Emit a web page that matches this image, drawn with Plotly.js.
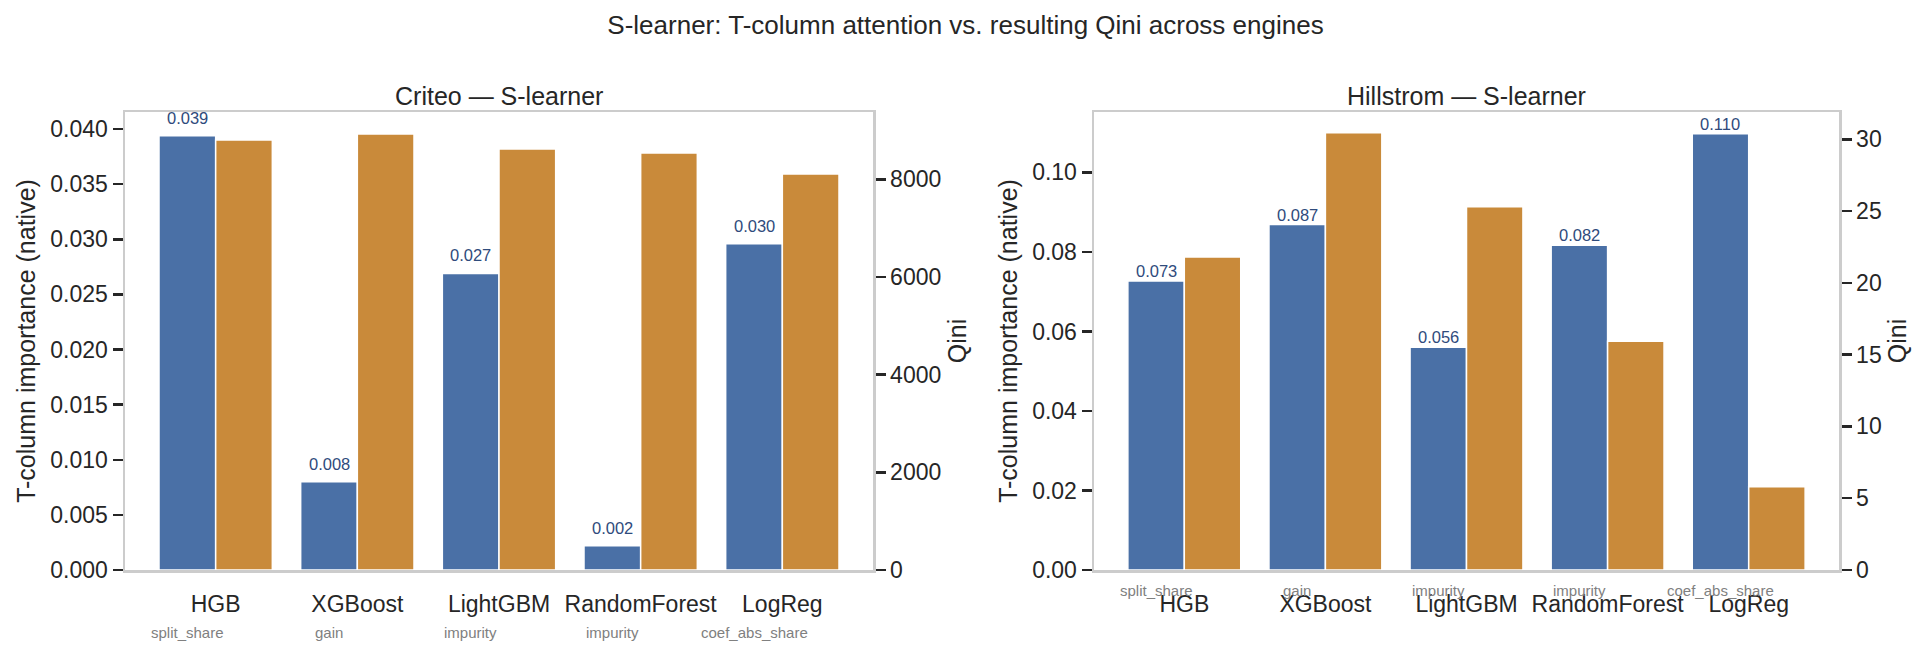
<!DOCTYPE html>
<html>
<head>
<meta charset="utf-8">
<script src="https://cdn.plot.ly/plotly-3.0.1.min.js"></script>
<style>
  html, body { margin: 0; padding: 0; background: #fff; }
  #chart { width: 1931px; height: 655px; }
</style>
</head>
<body>
<div id="chart"></div>
<script>
  // engines and the importance measure each one reports
  var engines = ["HGB", "XGBoost", "LightGBM", "RandomForest", "LogReg"];
  var measures = ["split_share", "gain", "impurity", "impurity", "coef_abs_share"];

  // Criteo
  var criteoImportance = [0.0394, 0.0080, 0.0269, 0.0022, 0.0296];
  var criteoQini = [8805, 8928, 8621, 8539, 8109];

  // Hillstrom
  var hillImportance = [0.0727, 0.0869, 0.0560, 0.0817, 0.1097];
  var hillQini = [21.8, 30.45, 25.3, 15.93, 5.8];

  var FONT = "Liberation Sans, Arial, sans-serif";
  var INK = "#262626";
  var BLUE = "#4A70A6";
  var ORANGE = "#C98A3A";
  var SPINE = "#cccccc";
  var W = 1931, H = 655;

  var idx = engines.map(function (_, i) { return i; });

  function bars(vals, color, offset, xa, ya) {
    return {
      type: "bar",
      x: idx,
      y: vals,
      width: 0.4,
      offset: offset,
      xaxis: xa,
      yaxis: ya,
      marker: { color: color, line: { color: "#ffffff", width: 1.5 } },
      hoverinfo: "y"
    };
  }

  var data = [
    bars(criteoImportance, BLUE, -0.4, "x", "y"),
    bars(criteoQini, ORANGE, 0, "x", "y2"),
    bars(hillImportance, BLUE, -0.4, "x2", "y3"),
    bars(hillQini, ORANGE, 0, "x2", "y4")
  ];

  var yDom = [1 - 570 / H, 1 - 112 / H];

  function xAxis(dom, anchor) {
    return {
      domain: dom,
      anchor: anchor,
      range: [-0.64, 4.64],
      tickvals: idx,
      ticktext: engines,
      ticks: "outside",
      ticklen: 12,
      tickcolor: "rgba(0,0,0,0)",
      tickfont: { family: FONT, size: 23, color: INK },
      showline: true,
      mirror: true,
      linecolor: SPINE,
      linewidth: 2.5,
      showgrid: false,
      zeroline: false,
      fixedrange: true
    };
  }

  function yAxis(range, dtick, fmt, title, side, extra) {
    var ax = {
      domain: yDom,
      range: range,
      dtick: dtick,
      tick0: 0,
      tickformat: fmt,
      side: side,
      ticks: "outside",
      ticklen: 10,
      tickwidth: 2.5,
      tickcolor: INK,
      tickfont: { family: FONT, size: 23, color: INK },
      showline: true,
      linecolor: SPINE,
      linewidth: 2.5,
      showgrid: false,
      zeroline: false,
      fixedrange: true,
      title: { text: title, font: { family: FONT, size: 25, color: INK }, standoff: 8 }
    };
    for (var k in extra) ax[k] = extra[k];
    return ax;
  }

  var annotations = [];

  function valueLabels(vals, xa, ya, shift) {
    vals.forEach(function (v, i) {
      annotations.push({
        xref: xa, yref: ya, x: i - 0.2, y: v,
        text: v.toFixed(3), showarrow: false,
        yanchor: "middle", yshift: shift,
        font: { family: FONT, size: 16.5, color: "#2F4B7C" }
      });
    });
  }

  function measureLabels(xa, yPx) {
    measures.forEach(function (m, i) {
      annotations.push({
        xref: xa, yref: "paper", x: i - 0.2, y: 1 - yPx / H,
        text: m, showarrow: false, yanchor: "middle",
        font: { family: FONT, size: 15, color: "#808080" }
      });
    });
  }

  valueLabels(criteoImportance, "x", "y", 18);
  valueLabels(hillImportance, "x2", "y3", 10);
  measureLabels("x", 632);
  measureLabels("x2", 590);

  var leftDom = [125 / W, 873 / W];
  var rightDom = [1094 / W, 1839 / W];

  [["Criteo — S-learner", leftDom], ["Hillstrom — S-learner", rightDom]].forEach(function (t) {
    annotations.push({
      xref: "paper", yref: "paper",
      x: (t[1][0] + t[1][1]) / 2, y: 1 - 96 / H,
      text: t[0], showarrow: false, xanchor: "center", yanchor: "middle",
      font: { family: FONT, size: 25, color: INK }
    });
  });

  var layout = {
    width: W,
    height: H,
    margin: { l: 0, r: 0, t: 0, b: 0 },
    paper_bgcolor: "#ffffff",
    plot_bgcolor: "#ffffff",
    showlegend: false,
    title: {
      text: "S-learner: T-column attention vs. resulting Qini across engines",
      x: 0.5, xanchor: "center",
      y: 1 - 25 / H, yanchor: "middle",
      font: { family: FONT, size: 26, color: INK }
    },
    xaxis: xAxis(leftDom, "y"),
    yaxis: yAxis([0, 0.04155], 0.005, ".3f", "T-column importance (native)", "left", { anchor: "x" }),
    yaxis2: yAxis([0, 9380], 2000, "d", "Qini", "right", { anchor: "x", overlaying: "y" }),
    xaxis2: xAxis(rightDom, "y3"),
    yaxis3: yAxis([0, 0.1152], 0.02, ".2f", "T-column importance (native)", "left", { anchor: "x2" }),
    yaxis4: yAxis([0, 31.9], 5, "d", "Qini", "right", { anchor: "x2", overlaying: "y3" }),
    annotations: annotations
  };

  Plotly.newPlot("chart", data, layout, { displayModeBar: false, staticPlot: true });
</script>
</body>
</html>
